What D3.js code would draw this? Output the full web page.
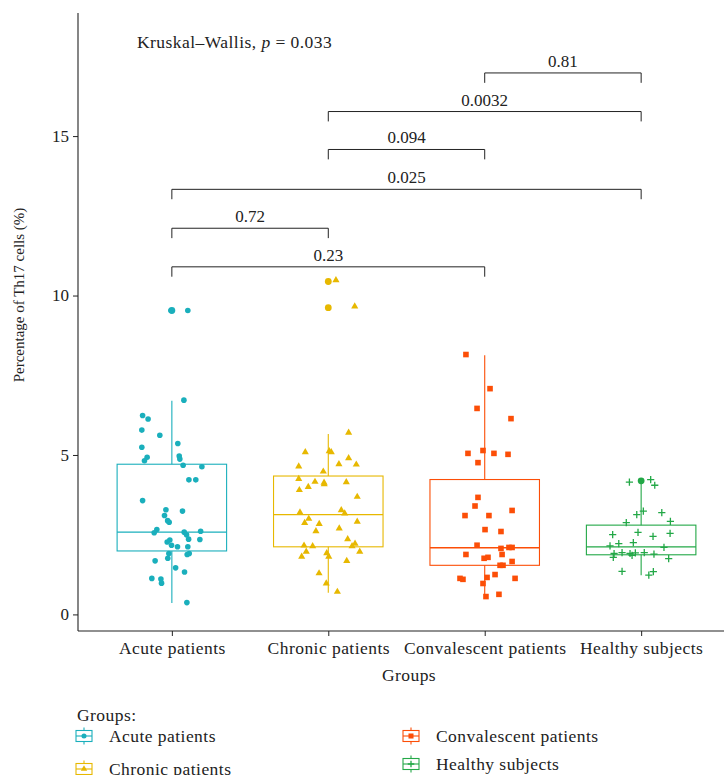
<!DOCTYPE html>
<html><head><meta charset="utf-8">
<script src="https://cdn.jsdelivr.net/npm/d3@7"></script>
<style>body{margin:0;background:#fff}svg{display:block}text{font-family:"Liberation Serif",serif;fill:#222}</style>
</head><body><svg id="c" width="724" height="775"></svg>
<script>
const groups = ["Acute patients","Chronic patients","Convalescent patients","Healthy subjects"];
const colors = ["#1AAFBC","#E7B800","#FC4E07","#23A847"];
const shapes = ["circle","triangle","square","cross"];
// box stats: [q1, median, q3, lowerWhisker, upperWhisker]
const boxAcute = [1.99, 2.58, 4.71, 0.36, 6.70];
const boxChronic = [2.12, 3.13, 4.34, 0.68, 5.66];
const boxConv = [1.54, 2.09, 4.23, 0.57, 8.13];
const boxHealthy = [1.87, 2.12, 2.80, 1.23, 4.15];
const outAcute = [9.53];
const outChronic = [10.44, 9.62];
const outConv = [];
const outHealthy = [4.19];
// jittered points: [horizontal jitter (category units), value]
const ptsAcute = [[0.077,6.72],[-0.187,6.24],[-0.152,6.13],[-0.192,5.78],[-0.077,5.62],[0.038,5.36],[-0.192,5.24],[-0.158,4.93],[-0.175,4.82],[0.047,4.97],[0.051,4.87],[0.072,4.68],[0.192,4.63],[0.109,4.22],[0.153,4.22],[-0.187,3.57],[-0.038,3.28],[0.068,3.24],[-0.047,3.10],[-0.027,2.94],[-0.017,2.89],[-0.096,2.66],[-0.113,2.56],[0.079,2.58],[0.094,2.50],[0.184,2.61],[0.107,2.36],[0.179,2.35],[-0.013,2.33],[-0.03,2.27],[-0.002,2.17],[0.036,2.12],[0.102,2.12],[-0.019,1.91],[0.111,1.91],[0.098,1.88],[-0.026,1.76],[-0.107,1.68],[0.024,1.46],[0.081,1.33],[-0.128,1.13],[-0.07,1.11],[-0.066,0.98],[0.096,0.37],[0.102,9.53],[-0.006,9.53]];
const ptsChronic = [[0.13,5.70],[-0.147,5.09],[0.006,5.12],[0.019,5.09],[-0.189,4.64],[0.068,4.71],[0.13,4.90],[0.179,4.70],[-0.032,4.48],[-0.189,4.25],[-0.085,4.16],[-0.027,4.13],[-0.026,4.08],[0.115,4.15],[-0.128,4.00],[-0.185,3.90],[0.185,3.69],[-0.181,3.20],[0.083,3.27],[0.105,3.17],[-0.125,3.00],[-0.151,2.87],[-0.058,2.84],[0.185,2.91],[-0.079,2.61],[0.07,2.70],[0.124,2.36],[-0.155,2.16],[-0.1,2.14],[0.152,2.14],[0.171,2.22],[-0.141,1.97],[0.201,1.97],[-0.17,1.81],[-0.01,1.92],[0.003,1.81],[0.118,1.68],[-0.059,1.29],[-0.013,0.97],[0.058,0.71],[0.049,10.48],[0.169,9.66]];
const ptsConv = [[-0.12,8.15],[0.034,7.08],[-0.049,6.46],[0.168,6.14],[-0.107,5.05],[-0.011,5.14],[0.059,5.05],[0.149,5.02],[-0.043,4.76],[-0.043,3.67],[-0.062,3.40],[-0.126,3.10],[0.027,3.10],[0.175,3.26],[0.002,2.66],[0.104,2.60],[-0.049,2.17],[0.104,2.07],[0.155,2.10],[0.175,2.10],[-0.12,1.88],[0.111,1.88],[-0.004,1.76],[0.021,1.79],[0.175,1.66],[0.098,1.54],[0.117,1.54],[0.066,1.25],[0.015,1.16],[-0.158,1.13],[-0.139,1.10],[0.194,1.13],[-0.011,0.97],[0.008,0.56],[0.091,0.63]];
const ptsHealthy = [[-0.075,4.15],[0.061,4.23],[0.087,4.05],[0.014,3.24],[-0.028,3.13],[0.132,3.19],[0.187,2.92],[-0.095,2.88],[-0.02,2.57],[-0.182,2.50],[0.076,2.45],[0.185,2.54],[-0.05,2.25],[-0.143,2.22],[-0.199,2.15],[0.146,2.10],[-0.122,1.94],[-0.173,1.91],[-0.071,1.91],[-0.037,1.93],[0.02,1.94],[0.082,1.89],[-0.178,1.79],[-0.058,1.85],[0.176,1.75],[-0.122,1.35],[0.049,1.23],[0.078,1.34]];
// comparisons
const compFrom = [3,2,2,1,1,1];
const compTo = [4,4,3,4,2,3];
const compY = [16.98,15.77,14.58,13.33,12.11,10.90];
const compLabel = ["0.81","0.0032","0.094","0.025","0.72","0.23"];
const yTicks = [0,5,10,15];

const boxes = [boxAcute,boxChronic,boxConv,boxHealthy];
const outs = [outAcute,outChronic,outConv,outHealthy];
const pts = [ptsAcute,ptsChronic,ptsConv,ptsHealthy];

const svg = d3.select("#c");
const x = d3.scaleLinear().domain([0.4,4.6]).range([78,735]);
const y = d3.scaleLinear().domain([-0.52,18.86]).range([631,13]);
const FS = 17, WFS = 17.5, LS = "0.45px";

// axes
const yAx = svg.append("g").attr("transform","translate(78,0)")
  .call(d3.axisLeft(y).tickValues(yTicks).tickSize(5).tickPadding(4).tickFormat(d3.format("d")));
const xAx = svg.append("g").attr("transform","translate(0,631)")
  .call(d3.axisBottom(x).tickValues([1,2,3,4]).tickSize(5).tickPadding(6).tickFormat(d=>groups[d-1]));
[yAx,xAx].forEach(g=>{
  g.select(".domain").attr("stroke","#222").attr("stroke-width",1.1);
  g.selectAll(".tick line").attr("stroke","#222");
  g.selectAll(".tick text").attr("font-family","Liberation Serif").attr("font-size",FS).attr("fill","#222");
});
xAx.selectAll(".tick text").attr("font-size",WFS).attr("letter-spacing",LS);
yAx.select(".domain").attr("d","M0,13V631");
xAx.select(".domain").attr("d","M78,0H724");

svg.append("text").attr("transform","translate(24,295) rotate(-90)").attr("text-anchor","middle")
  .attr("font-size",15).text("Percentage of Th17 cells (%)");
svg.append("text").attr("x",409).attr("y",681).attr("text-anchor","middle").attr("font-size",WFS).attr("letter-spacing",LS).text("Groups");

function drawSym(g, shape, color, cx, cy, scale){
  scale = scale||1;
  if(shape==="circle") g.append("circle").attr("cx",cx).attr("cy",cy).attr("r",2.8*scale).attr("fill",color);
  else if(shape==="triangle") g.append("path").attr("d",d3.symbol(d3.symbolTriangle,22*scale*scale)()).attr("transform",`translate(${cx},${cy})`).attr("fill",color);
  else if(shape==="square") g.append("rect").attr("x",cx-2.8*scale).attr("y",cy-2.8*scale).attr("width",5.6*scale).attr("height",5.6*scale).attr("fill",color);
  else { const h=3.6*scale; g.append("path").attr("d",`M${cx-h},${cy}H${cx+h}M${cx},${cy-h}V${cy+h}`).attr("stroke",color).attr("stroke-width",1.3).attr("fill","none"); }
}

// boxplots
const hw = 0.35;
boxes.forEach((b,i)=>{
  const g = svg.append("g"), c = colors[i], cx = x(i+1);
  g.append("line").attr("x1",cx).attr("x2",cx).attr("y1",y(b[2])).attr("y2",y(b[4])).attr("stroke",c).attr("stroke-width",1.1);
  g.append("line").attr("x1",cx).attr("x2",cx).attr("y1",y(b[0])).attr("y2",y(b[3])).attr("stroke",c).attr("stroke-width",1.1);
  g.append("rect").attr("x",x(i+1-hw)).attr("width",x(i+1+hw)-x(i+1-hw)).attr("y",y(b[2])).attr("height",y(b[0])-y(b[2]))
    .attr("fill","none").attr("stroke",c).attr("stroke-width",1.1);
  g.append("line").attr("x1",x(i+1-hw)).attr("x2",x(i+1+hw)).attr("y1",y(b[1])).attr("y2",y(b[1])).attr("stroke",c).attr("stroke-width",1.3);
  outs[i].forEach(v=>g.append("circle").attr("cx",cx).attr("cy",y(v)).attr("r",3.4).attr("fill",c));
});
pts.forEach((arr,i)=>{
  const g = svg.append("g");
  arr.forEach(p=>drawSym(g, shapes[i], colors[i], x(i+1+p[0]), y(p[1])));
});

// brackets
const tip = 0.31;
compY.forEach((v,k)=>{
  const x1 = x(compFrom[k]), x2 = x(compTo[k]);
  svg.append("path").attr("d",`M${x1},${y(v-tip)}V${y(v)}H${x2}V${y(v-tip)}`).attr("fill","none").attr("stroke","#222").attr("stroke-width",1);
  svg.append("text").attr("x",(x1+x2)/2).attr("y",y(v)-6).attr("text-anchor","middle").attr("font-size",FS).text(compLabel[k]);
});

// Kruskal-Wallis
const kt = svg.append("text").attr("x",137).attr("y",y(17.76)).attr("font-size",WFS).attr("letter-spacing",LS);
kt.append("tspan").text("Kruskal\u2013Wallis, ");
kt.append("tspan").attr("font-style","italic").text("p");
kt.append("tspan").text(" = 0.033");

// legend
svg.append("text").attr("x",77).attr("y",721).attr("font-size",WFS).attr("letter-spacing",LS).text("Groups:");
const legX = [84,411,84,411];
const legY = [736,736,769,764];
const order = [0,2,1,3];
order.forEach((gi,k)=>{
  const lx = legX[k], ly = legY[k], c = colors[gi];
  const g = svg.append("g");
  g.append("line").attr("x1",lx).attr("x2",lx).attr("y1",ly-8.5).attr("y2",ly+8.5).attr("stroke",c).attr("stroke-width",1.1);
  g.append("rect").attr("x",lx-8).attr("y",ly-5.5).attr("width",16).attr("height",11).attr("fill","#fff").attr("stroke",c).attr("stroke-width",1.1);
  g.append("line").attr("x1",lx-8).attr("x2",lx+8).attr("y1",ly).attr("y2",ly).attr("stroke",c).attr("stroke-width",1.1);
  drawSym(g, shapes[gi], c, lx, ly, 0.9);
  svg.append("text").attr("x",lx+25).attr("y",ly+6).attr("font-size",WFS).attr("letter-spacing",LS).text(groups[gi]);
});
</script></body></html>
